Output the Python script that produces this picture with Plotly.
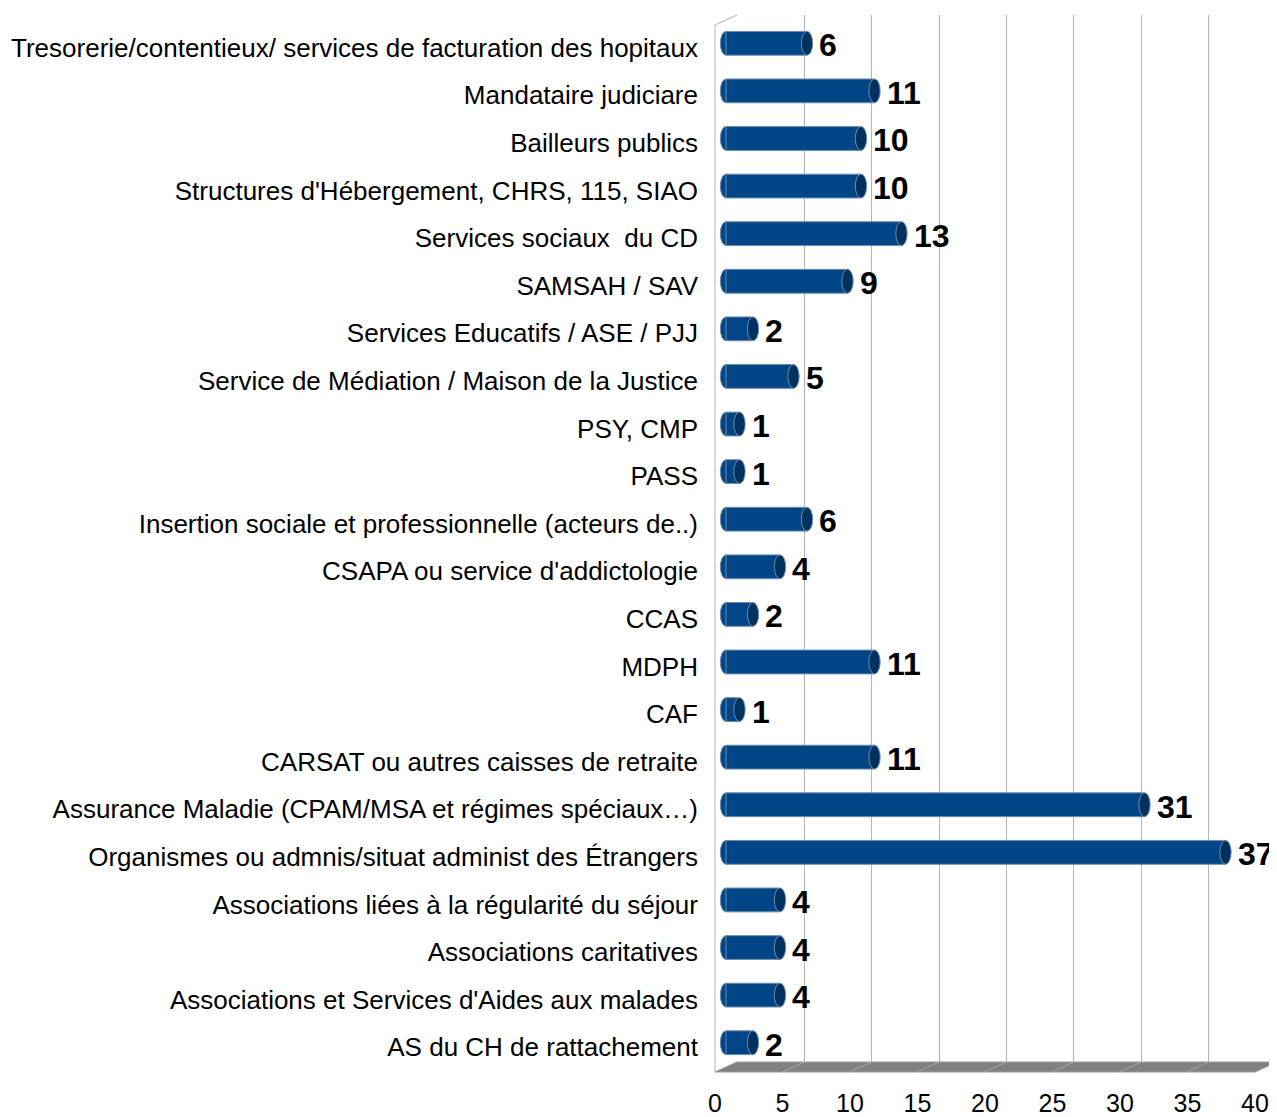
import plotly.graph_objects as go

categories = [
    "Tresorerie/contentieux/ services de facturation des hopitaux",
    "Mandataire judiciare",
    "Bailleurs publics",
    "Structures d'Hébergement, CHRS, 115, SIAO",
    "Services sociaux  du CD",
    "SAMSAH / SAV",
    "Services Educatifs / ASE / PJJ",
    "Service de Médiation / Maison de la Justice",
    "PSY, CMP",
    "PASS",
    "Insertion sociale et professionnelle (acteurs de..)",
    "CSAPA ou service d'addictologie",
    "CCAS",
    "MDPH",
    "CAF",
    "CARSAT ou autres caisses de retraite",
    "Assurance Maladie (CPAM/MSA et régimes spéciaux…)",
    "Organismes ou admnis/situat administ des Étrangers",
    "Associations liées à la régularité du séjour",
    "Associations caritatives",
    "Associations et Services d'Aides aux malades",
    "AS du CH de rattachement",
]
values = [6, 11, 10, 10, 13, 9, 2, 5, 1, 1, 6, 4, 2, 11, 1, 11, 31, 37, 4, 4, 4, 2]
x_ticks = [0, 5, 10, 15, 20, 25, 30, 35, 40]

# la page html ajoute une marge de 8px autour de la figure
OFF = 8
W, H = 1277 - OFF, 1117 - OFF
FONT = "Liberation Sans, Arial, sans-serif"
BAR = "#004586"
CAP = "#00325f"
EDGE = "#6f8cab"
GRID = "#b3b3b3"


def fx(px):
    return (px - OFF) / W


def fy(py):
    return 1 - (py - OFF) / H


idx = list(range(len(categories)))
n = len(idx)

fig = go.Figure()

# barres (plan du milieu, axes x3/y3)
fig.add_trace(go.Bar(
    x=values, y=idx, orientation="h", width=0.5,
    marker=dict(color=BAR, line=dict(color=EDGE, width=1)),
    xaxis="x3", yaxis="y3", hoverinfo="x",
))

# trace invisible pour les libellés de catégories (plan avant)
fig.add_trace(go.Scatter(
    x=[0] * n, y=idx, mode="markers",
    marker=dict(opacity=0), xaxis="x", yaxis="y", hoverinfo="skip",
))

# trace invisible pour la grille du mur du fond
fig.add_trace(go.Scatter(
    x=[0, 40], y=[0, 1], mode="markers", marker=dict(opacity=0),
    xaxis="x2", yaxis="y2", hoverinfo="skip",
))

shapes = []
cap_w = 0.42
for i, v in zip(idx, values):
    # extrémité gauche arrondie
    shapes.append(dict(type="circle", xref="x3", yref="y3", layer="between",
                       x0=-cap_w, x1=cap_w, y0=i - 0.25, y1=i + 0.25,
                       fillcolor=BAR, line=dict(color=EDGE, width=1)))
    # couvercle du cylindre
    shapes.append(dict(type="circle", xref="x3", yref="y3",
                       x0=v - cap_w, x1=v + cap_w, y0=i - 0.25, y1=i + 0.25,
                       fillcolor=CAP, line=dict(color=EDGE, width=1)))

# sol 3D
shapes.append(dict(type="path", xref="paper", yref="paper", layer="below",
                   path=f"M {fx(715)},{fy(1072)} L {fx(737)},{fy(1062)} L {fx(1277)},{fy(1062)} "
                        f"L {fx(1255)},{fy(1072)} Z",
                   fillcolor="#808080", line=dict(color="#9a9a9a", width=1)))
step = (1276 - 737) / 40
for t in x_ticks[1:-1]:
    shapes.append(dict(type="line", xref="paper", yref="paper",
                       x0=fx(737 + t * step), y0=fy(1062), x1=fx(715 + t * step), y1=fy(1072),
                       line=dict(color="#a6a6a6", width=1)))
# mur gauche
shapes.append(dict(type="line", xref="paper", yref="paper",
                   x0=fx(715), y0=fy(25), x1=fx(715), y1=fy(1072),
                   line=dict(color=GRID, width=1)))
shapes.append(dict(type="line", xref="paper", yref="paper",
                   x0=fx(715), y0=fy(25), x1=fx(737), y1=fy(15),
                   line=dict(color=GRID, width=1)))

annotations = []
for i, v in zip(idx, values):
    annotations.append(dict(x=v, y=i, xref="x3", yref="y3", text=str(v),
                            showarrow=False, xanchor="left", yanchor="middle",
                            xshift=10, yshift=-2,
                            font=dict(family=FONT, size=32, color="black", weight="bold")))

fig.update_layout(
    width=W, height=H,
    margin=dict(l=0, r=0, t=0, b=0),
    paper_bgcolor="white", plot_bgcolor="rgba(0,0,0,0)",
    showlegend=False,
    shapes=shapes,
    annotations=annotations,
    font=dict(family=FONT, size=26, color="black"),
    xaxis=dict(domain=[fx(715), fx(1255)], range=[0, 40], tickvals=x_ticks,
               showgrid=False, zeroline=False, showline=False, ticks="",
               ticklabelstandoff=15, anchor="y", automargin=False,
               tickfont=dict(size=25)),
    yaxis=dict(domain=[fy(1071), fy(24)], range=[n - 0.5, -0.5],
               tickvals=idx, ticktext=categories,
               showgrid=False, zeroline=False, showline=False,
               ticks="", ticklabelstandoff=16, anchor="x", automargin=False,
               tickfont=dict(size=26)),
    xaxis2=dict(domain=[fx(737), fx(1276)], range=[0, 40], tickvals=x_ticks,
                showgrid=True, gridcolor=GRID, gridwidth=1, zeroline=False,
                showticklabels=False, ticks="", anchor="y2"),
    yaxis2=dict(domain=[fy(1062), fy(15)], range=[0, 1], visible=False, anchor="x2"),
    # l'axe des barres commence à -1 pour ne pas couper l'extrémité arrondie
    xaxis3=dict(domain=[fx(712.5), fx(1266)], range=[-1, 40], visible=False, anchor="y3"),
    yaxis3=dict(domain=[fy(1066.5), fy(19.5)], range=[n - 0.5, -0.5],
                visible=False, anchor="x3"),
)

fig.write_html("out.html")
